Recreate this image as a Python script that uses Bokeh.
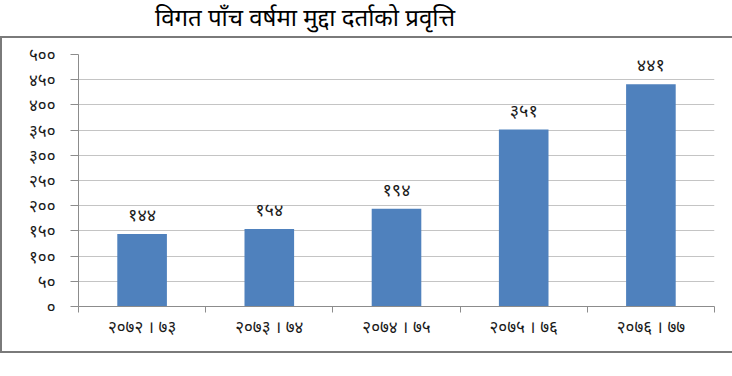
from bokeh.plotting import figure
from bokeh.models import FixedTicker, Range1d, ColumnDataSource, Div
from bokeh.layouts import column
from bokeh.core.properties import value
from bokeh.embed import file_html
from bokeh.resources import INLINE

# ---- data ----
title_text = "विगत पाँच वर्षमा मुद्दा दर्ताको प्रवृत्ति"
categories = ["२०७२ । ७३", "२०७३ । ७४", "२०७४ । ७५", "२०७५ । ७६", "२०७६ । ७७"]
counts = [144, 154, 194, 351, 441]
y_ticks = [0, 50, 100, 150, 200, 250, 300, 350, 400, 450, 500]

DEV = str.maketrans("0123456789", "०१२३४५६७८९")
def dev(n):
    return str(n).translate(DEV)

FONT = "'Noto Sans', 'Noto Sans Devanagari', sans-serif"
BLUE = "#4F81BD"
GRID = "#C4C4C4"
AXIS = "#8C8C8C"
BORDER = "#7a7a7a"

xs = [i + 0.5 for i in range(len(categories))]
src = ColumnDataSource(dict(x=xs, top=counts, lab=[dev(c) for c in counts]))

p = figure(width=732, height=317, output_backend="svg", toolbar_location=None,
           x_range=Range1d(0, len(categories)), y_range=Range1d(0, 500),
           min_border_left=76, min_border_right=20, min_border_top=16, min_border_bottom=49,
           styles={"border-top": f"2px solid {BORDER}", "border-left": f"2px solid {BORDER}",
                   "border-bottom": f"2px solid {BORDER}", "box-sizing": "border-box"})
p.outline_line_color = None
p.background_fill_color = "white"
p.border_fill_color = "white"

p.vbar(x="x", top="top", width=0.39, bottom=0, source=src, color=BLUE, line_color=None)
p.text(x="x", y="top", text="lab", source=src, text_align="center", text_baseline="bottom",
       y_offset=-8, text_font=value(FONT), text_font_size="18px", text_color="#1a1a1a")

# y axis
p.yaxis.ticker = FixedTicker(ticks=y_ticks, minor_ticks=[])
p.yaxis.major_label_overrides = {t: dev(t) for t in y_ticks}
p.yaxis.axis_line_color = AXIS
p.yaxis.major_tick_line_color = AXIS
p.yaxis.major_tick_out = 8
p.yaxis.major_tick_in = 0
p.yaxis.major_label_standoff = 15
p.yaxis.major_label_text_font = FONT
p.yaxis.major_label_text_font_size = "17px"
p.yaxis.major_label_text_color = "#1a1a1a"

# x axis
p.xaxis.ticker = FixedTicker(ticks=xs, minor_ticks=list(range(len(categories) + 1)))
p.xaxis.major_label_overrides = {x: c for x, c in zip(xs, categories)}
p.xaxis.axis_line_color = AXIS
p.xaxis.major_tick_line_color = None
p.xaxis.major_tick_out = 6
p.xaxis.minor_tick_line_color = AXIS
p.xaxis.minor_tick_out = 6
p.xaxis.minor_tick_in = 0
p.xaxis.major_label_standoff = 2
p.xaxis.major_label_text_font = FONT
p.xaxis.major_label_text_font_size = "17px"
p.xaxis.major_label_text_color = "#1a1a1a"

p.xgrid.grid_line_color = None
p.ygrid.grid_line_color = GRID
p.ygrid.grid_line_width = 1

title = Div(text=title_text, width=732, height=36,
            styles={"font-family": FONT, "font-size": "24px", "color": "black",
                    "width": "610px", "text-align": "center", "line-height": "34px",
                    "margin": "0", "padding": "0"})

layout = column(title, p, spacing=0)
open("out.html", "w").write(file_html(layout, INLINE))
